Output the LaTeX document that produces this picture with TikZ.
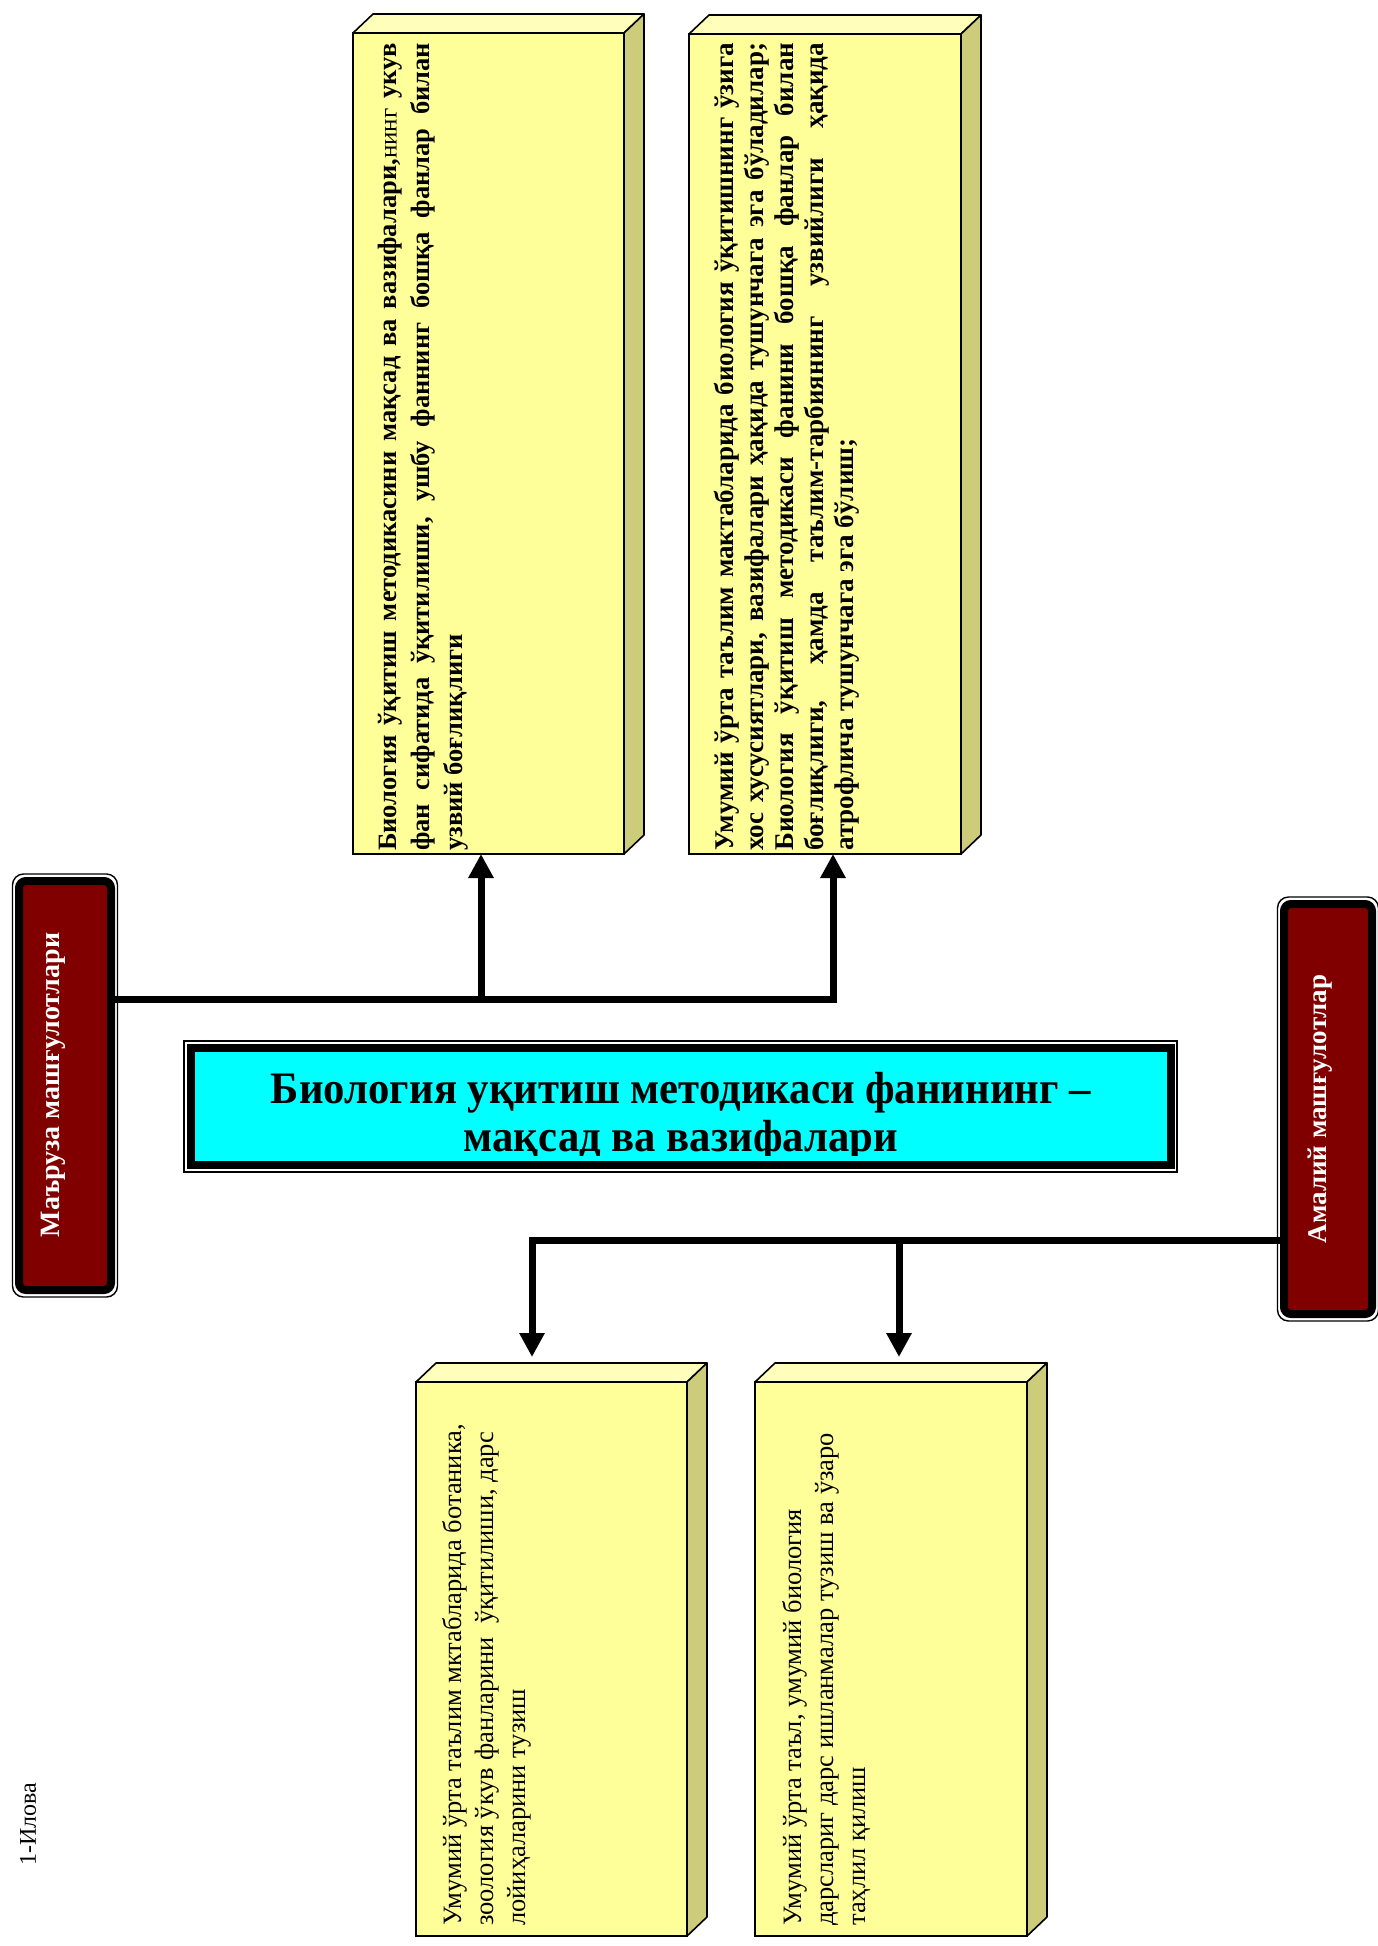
\documentclass[tikz,border=0pt]{standalone}
\usepackage{fontspec}
\setmainfont{Liberation Serif}
\usetikzlibrary{arrows.meta,calc}
\definecolor{yfront}{HTML}{FFFF99}
\definecolor{ytop}{HTML}{FFFFBB}
\definecolor{yside}{HTML}{CCCC7A}
\definecolor{darkred}{HTML}{800000}
\definecolor{cyanbox}{HTML}{00FFFF}
\newcommand\boxdepth[1]{%
  \path[yfacetop] (#1.north west) -- ++(20,-19) -- ($(#1.north east)+(20,-19)$) -- (#1.north east) -- cycle;
  \path[yfaceside] (#1.north east) -- ++(20,-19) -- ($(#1.south east)+(20,-19)$) -- (#1.south east) -- cycle;
}
\begin{document}
\begin{tikzpicture}[x=1pt,y=-1pt,
  yfacefront/.style={rectangle, draw=black, line width=1.6pt, fill=yfront, inner sep=0pt, outer sep=0pt},
  yfacetop/.style={draw=black, line width=1.6pt, fill=ytop, line join=round},
  yfaceside/.style={draw=black, line width=1.6pt, fill=yside, line join=round},
  boldtxt/.style={rotate=90, anchor=north west, inner sep=0pt, align=left},
  plaintxt/.style={rotate=90, anchor=north west, inner sep=0pt, align=left, font=\fontsize{26.5}{32}\selectfont},
  darkbox/.style={rectangle, rounded corners=7pt, draw=black, line width=8pt, fill=darkred, inner sep=0pt, outer sep=0pt},
  thinframe/.style={draw=black, line width=1.4pt},
  darklabel/.style={rotate=90, text=white, inner sep=0pt},
  arr/.style={line width=7pt, line join=miter, -{Triangle[width=24pt,length=24pt]}},
  titletxt/.style={anchor=base, inner sep=0pt, xscale=0.95, font=\bfseries\fontsize{45}{46}\selectfont}
]
\useasboundingbox (0,0) rectangle (1377,1946);
\fill[white] (0,0) rectangle (1377,1946);

% yellow boxes
\node[yfacefront, minimum width=271pt, minimum height=821pt] (b1) at (488.5,443.5) {};
\boxdepth{b1}
\node[yfacefront, minimum width=272pt, minimum height=820pt] (b2) at (825,444) {};
\boxdepth{b2}
\node[yfacefront, minimum width=271pt, minimum height=554pt] (b3) at (551.5,1659) {};
\boxdepth{b3}
\node[yfacefront, minimum width=272pt, minimum height=554pt] (b4) at (891,1659) {};
\boxdepth{b4}

% box texts
\node[boldtxt, font=\bfseries\fontsize{26.5}{33}\selectfont] (t1) at (378,851)
 {\makebox[808pt][s]{Биология ўқитиш методикасини мақсад ва вазифалари,{\mdseries\fontsize{25}{33}\selectfont нинг} укув}\\
  \makebox[808pt][s]{фан сифатида ўқитилиши, ушбу фаннинг бошқа фанлар билан}\\
  узвий боғлиқлиги};
\node[boldtxt, font=\bfseries\fontsize{27}{30}\selectfont] (t2) at (714,851)
 {\makebox[808pt][s]{Умумий ўрта таълим мактабларида биология ўқитишнинг ўзига}\\
  \makebox[808pt][s]{хос хусусиятлари, вазифалари ҳақида тушунчага эга бўладилар;}\\
  \makebox[808pt][s]{Биология ўқитиш методикаси фанини бошқа фанлар билан}\\
  \makebox[808pt][s]{боғлиқлиги, ҳамда таълим-тарбиянинг узвийлиги ҳақида}\\
  атрофлича тушунчага эга бўлиш;};
\node[plaintxt] (t3) at (442,1926)
 {Умумий ўрта таълим мктабларида ботаника,\\
  зоология ўкув фанларини \ ўқитилиши, дарс\\
  лойиҳаларини тузиш};
\node[plaintxt] (t4) at (782,1926)
 {Умумий ўрта таъл, умумий биология\\
  дарслариг дарс ишланмалар тузиш ва ўзаро\\
  таҳлил қилиш};

% dark boxes
\node[darkbox, minimum width=92pt, minimum height=409pt] (lb) at (65,1085.5) {};
\draw[thinframe, rounded corners=11pt] ($(lb.north west)+(-6.5,-7)$) rectangle ($(lb.south east)+(6.5,7)$);
\node[darklabel, font=\bfseries\fontsize{28}{33}\selectfont] (lbt) at (53,1085) {Маъруза машғулотлари};
\node[darkbox, minimum width=88pt, minimum height=410pt] (rb) at (1328,1109) {};
\draw[thinframe, rounded corners=11pt] ($(rb.north west)+(-6.5,-7)$) rectangle ($(rb.south east)+(6.5,7)$);
\node[darklabel, font=\bfseries\fontsize{27}{33}\selectfont] (rbt) at (1320,1109) {Амалий машғулотлар};

% title
\node[rectangle, draw=black, line width=8pt, fill=cyanbox, minimum width=980pt, minimum height=117pt, inner sep=0pt, outer sep=0pt] (tb) at (681,1106.5) {};
\draw[thinframe] ($(tb.north west)+(-7,-7)$) rectangle ($(tb.south east)+(6,7)$);
\begin{scope}
  \clip ($(tb.north west)+(4,4)$) rectangle ($(tb.south east)+(-4,-10)$);
  \node[titletxt] (tt1) at (681,1103) {Биология уқитиш методикаси фанининг –};
  \node[titletxt] (tt2) at (681,1151) {мақсад ва вазифалари};
\end{scope}

% connectors
\coordinate (ja) at (833,999);
\coordinate (jb) at (481,999);
\draw[arr] (lb.east |- ja) -- (ja) -- (ja |- b2.south);
\draw[arr] (jb) -- (jb |- b1.south);
\coordinate (jc) at (532,1240);
\coordinate (jd) at (899,1240);
\draw[arr, shorten >=25pt] (rb.west |- jc) -- (jc) -- (jc |- b3.north);
\draw[arr, shorten >=25pt] (jd) -- (jd |- b4.north);

% note
\node[rotate=90, inner sep=0pt, font=\fontsize{24}{28}\selectfont] (ilova) at (28,1824) {1-Илова};
\end{tikzpicture}
\end{document}
